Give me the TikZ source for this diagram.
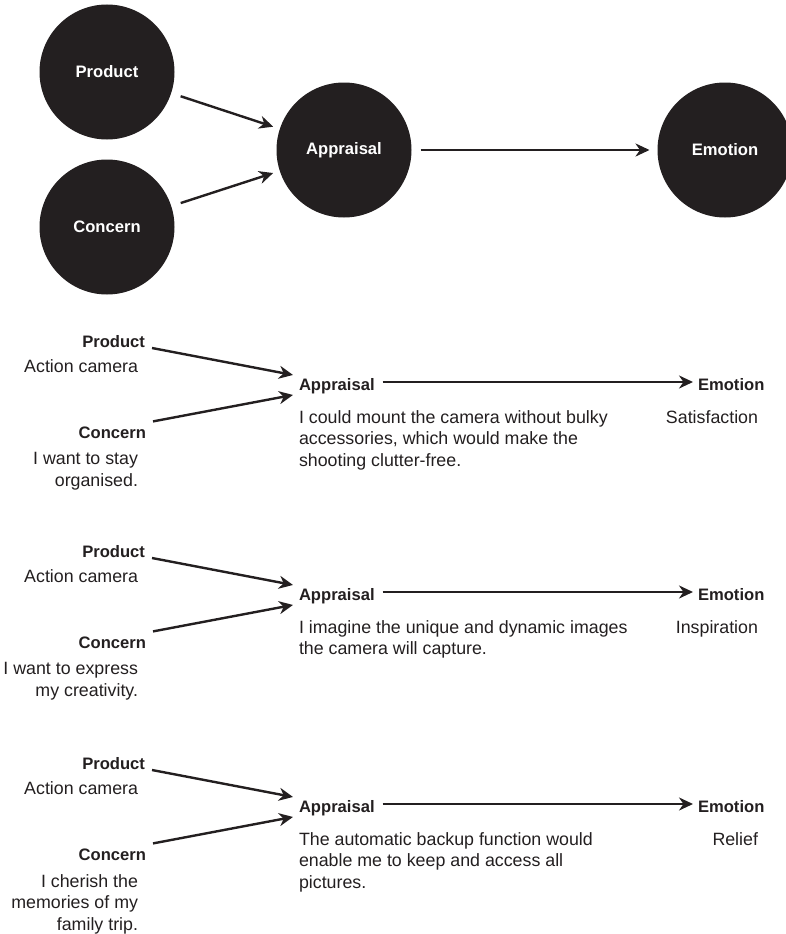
\documentclass[tikz,border=0pt]{standalone}
\usepackage{fontspec}
\setmainfont{Liberation Sans}
\usetikzlibrary{arrows.meta}
\definecolor{ink}{HTML}{231F20}

% One worked example: product + concern -> appraisal -> emotion
% #1 name suffix, #2 vertical offset, #3 product, #4 concern, #5 appraisal, #6 emotion
\newcommand{\flowrow}[6]{%
  \begin{scope}[shift={(0,#2)}]
    \node[head, anchor=base east] (p#1) at (145,347) {Product};
    \node[body, anchor=base east] (pt#1) at (138,372) {#3};
    \node[head, anchor=base east] (c#1) at (146,438) {Concern};
    \node[body, anchor=north east, align=right] (ct#1) at (138,452.5) {#4};
    \node[head, anchor=base west] (a#1) at (299,390) {Appraisal};
    \node[body, anchor=north west, align=left] (at#1) at (299,410.5) {#5};
    \node[head, anchor=base west] (e#1) at (698,390) {Emotion};
    \node[body, anchor=north east, align=right] (et#1) at (758,410.5) {#6};
    \draw[link] ([shift={(7pt,-1pt)}]p#1.base east) -- ([shift={(-6pt,3pt)}]a#1.north west);
    \draw[link] ([shift={(7pt,5pt)}]c#1.north east) -- ([shift={(-6pt,-1.5pt)}]a#1.south west);
    \draw[link] ([shift={(8pt,8pt)}]a#1.base east) -- ([shift={(-5pt,8pt)}]e#1.base west);
  \end{scope}}

\begin{document}
\begin{tikzpicture}[x=1pt, y=-1pt,
  every node/.style={inner sep=0pt, outer sep=0pt, text=ink},
  bubble/.style={circle, fill=ink, minimum size=135pt, text=white,
                 font=\fontsize{16.6}{19}\selectfont\bfseries},
  head/.style={font=\fontsize{16.6}{19}\selectfont\bfseries},
  body/.style={font=\fontsize{17.8}{21.3}\selectfont},
  link/.style={draw=ink, line width=2.4pt,
               -{Stealth[length=14pt, width=13pt, inset=4.5pt]}},
]
\useasboundingbox (0,0) rectangle (786,934);

% general model
\node[bubble] (cP) at (107,72)  {Product};
\node[bubble] (cC) at (107,227) {Concern};
\node[bubble] (cA) at (344,150) {Appraisal};
\node[bubble] (cE) at (725,150) {Emotion};
\draw[link, shorten <=10pt, shorten >=7pt] (cP) -- (cA);
\draw[link, shorten <=10pt, shorten >=7pt] (cC) -- (cA);
\draw[link, shorten <=9pt, shorten >=8pt] (cA) -- (cE);

% three examples
\flowrow{1}{0}{Action camera}{I want to stay\\organised.}
  {I could mount the camera without bulky\\accessories, which would make the\\shooting clutter-free.}
  {Satisfaction}
\flowrow{2}{210}{Action camera}{I want to express\\my creativity.}
  {I imagine the unique and dynamic images\\the camera will capture.}
  {Inspiration}
\flowrow{3}{422}{Action camera}{I cherish the\\memories of my\\family trip.}
  {The automatic backup function would\\enable me to keep and access all\\pictures.}
  {Relief}
\end{tikzpicture}
\end{document}
